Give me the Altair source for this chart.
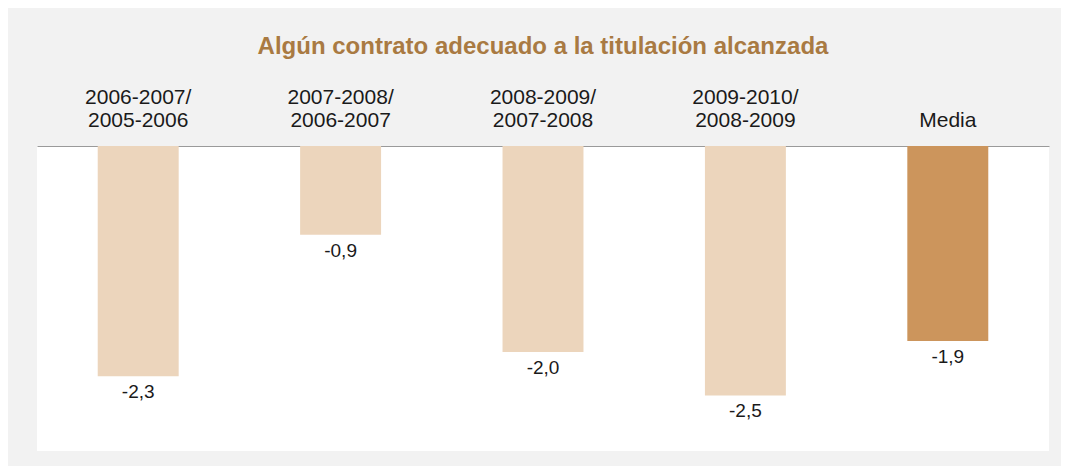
import altair as alt
import pandas as pd

categories = ["2006-2007/|2005-2006", "2007-2008/|2006-2007", "2008-2009/|2007-2008",
              "2009-2010/|2008-2009", "|Media"]
values = [-2.28, -0.88, -2.04, -2.47, -1.93]
labels = ["-2,3", "-0,9", "-2,0", "-2,5", "-1,9"]
kinds = ["periodo", "periodo", "periodo", "periodo", "media"]

df = pd.DataFrame({"cat": categories, "value": values, "label": labels, "kind": kinds})

FONT = "Liberation Sans"

x = alt.X(
    "cat:N", sort=categories,
    scale=alt.Scale(paddingInner=0.6, paddingOuter=0.3),
    axis=alt.Axis(orient="top", title=None, labelAngle=0, ticks=False, tickSize=0,
                  labelPadding=39, labelFontSize=21, labelLineHeight=23.5,
                  labelColor="#1a1a1a", labelFont=FONT,
                  labelExpr="split(datum.value, '|')",
                  domainColor="#9a9a9a", domainWidth=1.2, grid=False),
)
y = alt.Y("value:Q", scale=alt.Scale(domain=[-3.02, 0], nice=False, zero=True), axis=None)

bars = alt.Chart(df).mark_bar().encode(
    x=x, y=y,
    color=alt.Color("kind:N", scale=alt.Scale(domain=["periodo", "media"],
                                              range=["#ecd5bc", "#cc955c"]), legend=None),
)

text = alt.Chart(df).mark_text(baseline="top", dy=7, fontSize=19, font=FONT,
                               color="#1a1a1a").encode(
    x=x, y=y, text="label:N"
)

chart = alt.layer(bars, text).properties(
    width=1012, height=305,
    padding={"left": 29, "top": 138, "right": 12, "bottom": 15},
    autosize=alt.AutoSizeParams(type="none"),
    background="#f2f2f2",
    title=alt.TitleParams("Algún contrato adecuado a la titulación alcanzada",
                          fontSize=24, font=FONT, fontWeight="bold", color="#a97a42",
                          offset=27, anchor="middle"),
).configure_view(fill="white", strokeWidth=0)

chart.save("out.html", embed_options={"renderer": "svg", "actions": False})
